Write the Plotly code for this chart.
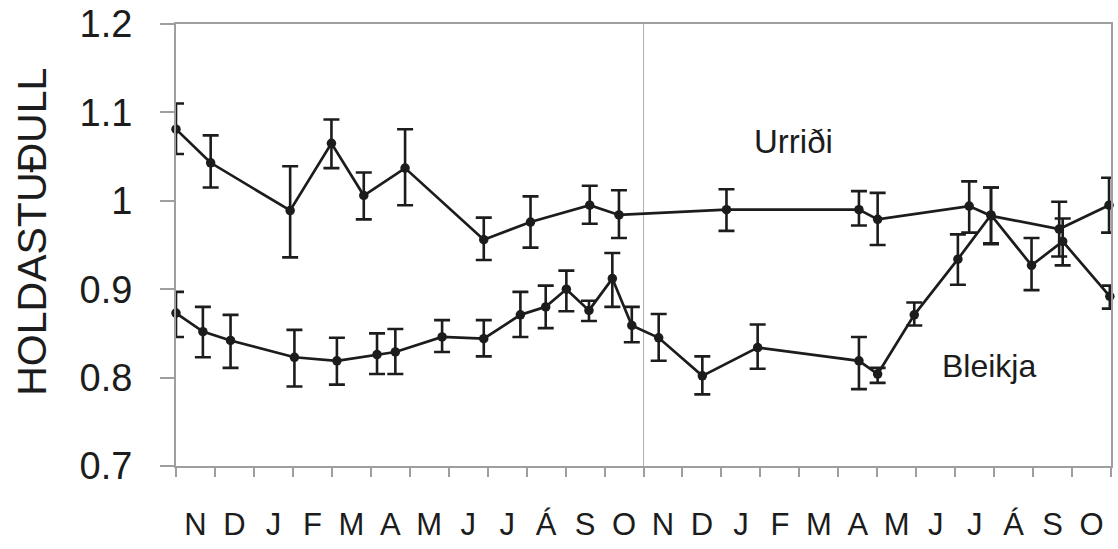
import plotly.graph_objects as go

# Month index: 0 = start of November in the first year, 24 = end of October in the second
month_labels = ["N", "D", "J", "F", "M", "A", "M", "J", "J", "Á", "S", "O",
                "N", "D", "J", "F", "M", "A", "M", "J", "J", "Á", "S", "O"]
label_pos = [i + 0.5 for i in range(24)]

# Urriði (brown trout) condition factor
urridi_month = [0.0, 0.89, 2.93, 3.99, 4.82, 5.88, 7.90, 9.10, 10.62, 11.37,
                14.13, 17.53, 18.01, 20.36, 20.92, 22.67, 23.95]
urridi_val = [1.081, 1.043, 0.989, 1.065, 1.006, 1.037, 0.956, 0.976, 0.995, 0.984,
              0.990, 0.990, 0.979, 0.994, 0.983, 0.968, 0.995]
urridi_hi = [1.110, 1.074, 1.039, 1.092, 1.032, 1.081, 0.981, 1.005, 1.017, 1.012,
             1.013, 1.011, 1.009, 1.022, 1.015, 0.999, 1.026]
urridi_lo = [1.053, 1.015, 0.936, 1.037, 0.979, 0.995, 0.933, 0.947, 0.974, 0.958,
             0.966, 0.972, 0.950, 0.964, 0.951, 0.937, 0.964]

# Bleikja (Arctic charr) condition factor
bleikja_month = [0.0, 0.69, 1.40, 3.04, 4.13, 5.16, 5.63, 6.83, 7.90, 8.84, 9.49, 10.02,
                 10.60, 11.20, 11.70, 12.39, 13.51, 14.93, 17.53, 18.01, 18.95, 20.07,
                 20.92, 21.96, 22.76, 23.97]
bleikja_val = [0.873, 0.852, 0.842, 0.823, 0.819, 0.826, 0.829, 0.846, 0.844, 0.871, 0.880, 0.900,
               0.876, 0.912, 0.859, 0.845, 0.802, 0.834, 0.819, 0.804, 0.871, 0.934,
               0.984, 0.927, 0.954, 0.892]
bleikja_hi = [0.897, 0.880, 0.871, 0.854, 0.845, 0.850, 0.855, 0.865, 0.865, 0.897, 0.904, 0.921,
              0.887, 0.941, 0.880, 0.872, 0.824, 0.860, 0.846, 0.811, 0.885, 0.962,
              1.015, 0.958, 0.980, 0.904]
bleikja_lo = [0.846, 0.823, 0.811, 0.790, 0.792, 0.804, 0.804, 0.829, 0.824, 0.846, 0.856, 0.875,
              0.864, 0.880, 0.840, 0.819, 0.781, 0.810, 0.787, 0.794, 0.859, 0.905,
              0.952, 0.899, 0.927, 0.878]

INK = "#1c1c1c"
FRAME = "#9e9e9e"
FONT = "Liberation Sans, Arial, sans-serif"


def series(xs, ys, hi, lo, name):
    return go.Scatter(
        x=xs, y=ys, name=name, mode="lines+markers",
        line=dict(color=INK, width=2.7),
        marker=dict(color=INK, size=9.5),
        error_y=dict(type="data", symmetric=False,
                     array=[h - v for h, v in zip(hi, ys)],
                     arrayminus=[v - l for v, l in zip(ys, lo)],
                     color=INK, thickness=2.6, width=8),
        cliponaxis=False,
        showlegend=False,
    )


fig = go.Figure()
fig.add_trace(series(urridi_month, urridi_val, urridi_hi, urridi_lo, "Urriði"))
fig.add_trace(series(bleikja_month, bleikja_val, bleikja_hi, bleikja_lo, "Bleikja"))

# year boundary
fig.add_vline(x=12, line=dict(color="#b0b0b0", width=1), layer="below")

fig.update_xaxes(
    range=[0, 24], tickmode="array", tickvals=label_pos, ticktext=month_labels,
    ticks="", showgrid=False, zeroline=False, automargin=False,
    showline=True, linecolor=FRAME, linewidth=2, mirror=True,
    tickfont=dict(family=FONT, size=31, color=INK),
    ticklabelstandoff=30,
    minor=dict(ticks="outside", dtick=1, tick0=0, ticklen=9, tickwidth=1.5,
               tickcolor=FRAME, showgrid=False),
)
fig.update_yaxes(
    range=[0.7, 1.2], tickmode="array",
    tickvals=[0.7, 0.8, 0.9, 1.0, 1.1, 1.2],
    ticktext=["0.7", "0.8", "0.9", "1", "1.1", "1.2"],
    ticks="outside", ticklen=14, tickwidth=1.5, tickcolor=FRAME,
    showgrid=False, zeroline=False, automargin=False,
    showline=True, linecolor=FRAME, linewidth=2, mirror=True,
    tickfont=dict(family=FONT, size=38, color=INK),
    ticklabelstandoff=20,
)

fig.add_annotation(text="HOLDASTUÐULL", textangle=-90, xref="paper", yref="paper",
                   x=-0.154, y=0.53, xanchor="center", yanchor="middle", showarrow=False,
                   font=dict(family=FONT, size=41, color=INK))
fig.add_annotation(text="Urriði", x=15.85, y=1.067, showarrow=False,
                   font=dict(family=FONT, size=33, color=INK))
fig.add_annotation(text="Bleikja", x=20.86, y=0.813, showarrow=False,
                   font=dict(family=FONT, size=32, color=INK))

fig.update_layout(
    width=1118, height=549,
    margin=dict(l=176, r=7, t=24, b=83, autoexpand=False),
    paper_bgcolor="white", plot_bgcolor="white",
)

fig.write_html("out.html")
